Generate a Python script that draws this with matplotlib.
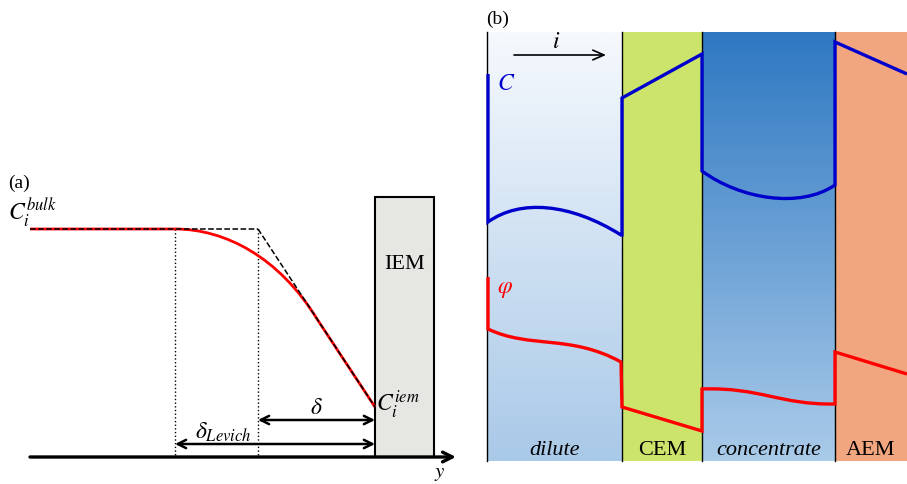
import numpy as np
import matplotlib.pyplot as plt
from matplotlib.colors import LinearSegmentedColormap
from matplotlib.path import Path
from matplotlib.patches import PathPatch

plt.rcParams['font.family'] = ['Liberation Serif', 'DejaVu Serif']
plt.rcParams['mathtext.fontset'] = 'stix'

# =========================
# PANEL (a) - concentration profile (pixel coords of the picture)
# M = move, L = line, C = cubic bezier (3 points)
# =========================
bulk_x = [30, 258]
bulk_y = [230, 230]
nernst_x = [258, 375]
nernst_y = [230, 408]
red_pts = [(30, 230), (175, 230), (225, 230), (279, 258), (317, 320), (375, 408)]
red_codes = ['M', 'L', 'C', 'C', 'C', 'L']
levich_x = 175
delta_x = 258
iem_left, iem_right, iem_top = 375, 434, 198
axis_y = 458

# =========================
# PANEL (b) - stack of compartments
# =========================
zone_names = ['dilute', 'CEM', 'concentrate', 'AEM']
zone_edges = [487, 622, 702, 835, 907]
zone_italic = [True, False, True, False]
top_b, bot_b = 33, 462

conc_pts = [(488, 75), (488, 223), (520, 200), (570, 204), (621, 236), (622, 236), (622, 99),
            (702, 55), (702, 172), (740, 200), (800, 210), (835, 186), (835, 43), (907, 75)]
conc_codes = ['M', 'L', 'C', 'C', 'C', 'L', 'L', 'L', 'L', 'C', 'C', 'C', 'L', 'L']

phi_pts = [(488, 278), (488, 330), (530, 350), (570, 335), (621, 363), (622, 408), (702, 432),
           (702, 390), (760, 388), (780, 406), (835, 405), (835, 353), (907, 375)]
phi_codes = ['M', 'L', 'C', 'C', 'C', 'L', 'L', 'L', 'C', 'C', 'C', 'L', 'L']

code_map = {'M': Path.MOVETO, 'L': Path.LINETO, 'C': Path.CURVE4}


def curve(ax, pts, codes, color, lw, z):
    path = Path(pts, [code_map[c] for c in codes])
    ax.add_patch(PathPatch(path, fill=False, edgecolor=color, lw=lw, zorder=z,
                           joinstyle='miter', capstyle='butt'))


fig = plt.figure(figsize=(9.07, 4.85), dpi=100)
ax = fig.add_axes([0, 0, 1, 1])
ax.set_xlim(0, 907)
ax.set_ylim(485, 0)
ax.axis('off')

# ---- (a)
ax.text(8, 183, '(a)', fontsize=14, va='center', ha='left')
ax.text(8, 213, r'$C_i^{bulk}$', fontsize=17, va='center', ha='left')
ax.add_patch(plt.Rectangle((iem_left, iem_top), iem_right - iem_left, axis_y - iem_top,
                           facecolor='#e6e6e3', edgecolor='black', lw=1.5, zorder=2))
ax.text((iem_left + iem_right) / 2, 265, 'IEM', fontsize=16, ha='center', va='center', zorder=3)
curve(ax, red_pts, red_codes, 'red', 2.0, 3)
ax.plot(bulk_x, bulk_y, 'k--', lw=1.1, zorder=4)
ax.plot(nernst_x, nernst_y, 'k--', lw=1.1, zorder=4)
ax.plot([levich_x, levich_x], [230, axis_y], 'k:', lw=1.0)
ax.plot([delta_x, delta_x], [230, axis_y], 'k:', lw=1.0)
ax.annotate('', xy=(456, axis_y), xytext=(30, axis_y),
            arrowprops=dict(arrowstyle='->,head_length=0.7,head_width=0.35', lw=2.4, color='black',
                            shrinkA=0, shrinkB=0))
ax.annotate('', xy=(iem_left, 421), xytext=(delta_x, 421),
            arrowprops=dict(arrowstyle='<->,head_length=0.6,head_width=0.3', lw=1.8, color='black',
                            shrinkA=0, shrinkB=0))
ax.annotate('', xy=(iem_left, 445), xytext=(levich_x, 445),
            arrowprops=dict(arrowstyle='<->,head_length=0.6,head_width=0.3', lw=1.8, color='black',
                            shrinkA=0, shrinkB=0))
ax.text(316, 409, r'$\delta$', fontsize=17, ha='center', va='center')
ax.text(195, 432, r'$\delta_{Levich}$', fontsize=17, ha='left', va='center')
ax.text(376, 405, r'$C_i^{iem}$', fontsize=17, ha='left', va='center', zorder=5)
ax.text(440, 474, r'$y$', fontsize=15, ha='center', va='center')

# ---- (b)
ax.text(486, 19, '(b)', fontsize=14, va='center', ha='left')
grad = np.linspace(0, 1, 256).reshape(-1, 1)
dil_cmap = LinearSegmentedColormap.from_list('dil', ['#f6f9fd', '#a9c9e8'])
con_cmap = LinearSegmentedColormap.from_list('con', ['#2e78c2', '#aacbe9'])
ax.imshow(grad, cmap=dil_cmap, aspect='auto', extent=[zone_edges[0], zone_edges[1], bot_b, top_b], zorder=0)
ax.imshow(grad, cmap=con_cmap, aspect='auto', extent=[zone_edges[2], zone_edges[3], bot_b, top_b], zorder=0)
ax.add_patch(plt.Rectangle((zone_edges[1], top_b), zone_edges[2] - zone_edges[1], bot_b - top_b,
                           facecolor='#cde46c', edgecolor='none', zorder=0))
ax.add_patch(plt.Rectangle((zone_edges[3], top_b), zone_edges[4] - zone_edges[3], bot_b - top_b,
                           facecolor='#f1a67f', edgecolor='none', zorder=0))
for xe in zone_edges[:-1]:
    ax.plot([xe, xe], [top_b, bot_b], color='black', lw=1.0, zorder=1)

for name, x0, x1, it in zip(zone_names, zone_edges[:-1], zone_edges[1:], zone_italic):
    ax.text((x0 + x1) / 2, 451, name, fontsize=16, ha='center', va='center',
            style='italic' if it else 'normal', zorder=3)

ax.annotate('', xy=(606, 56), xytext=(514, 56),
            arrowprops=dict(arrowstyle='->,head_length=0.8,head_width=0.35', lw=1.2, color='black',
                            shrinkA=0, shrinkB=0))
ax.text(556, 43, r'$i$', fontsize=17, ha='center', va='center')

curve(ax, conc_pts, conc_codes, '#0000cc', 2.4, 2)
curve(ax, phi_pts, phi_codes, '#ff0000', 2.4, 2)
ax.text(497, 85, r'$C$', fontsize=17, color='#0000cc', ha='left', va='center')
ax.text(497, 290, r'$\varphi$', fontsize=17, color='#ff0000', ha='left', va='center')

fig.savefig('out.png', dpi=100)
